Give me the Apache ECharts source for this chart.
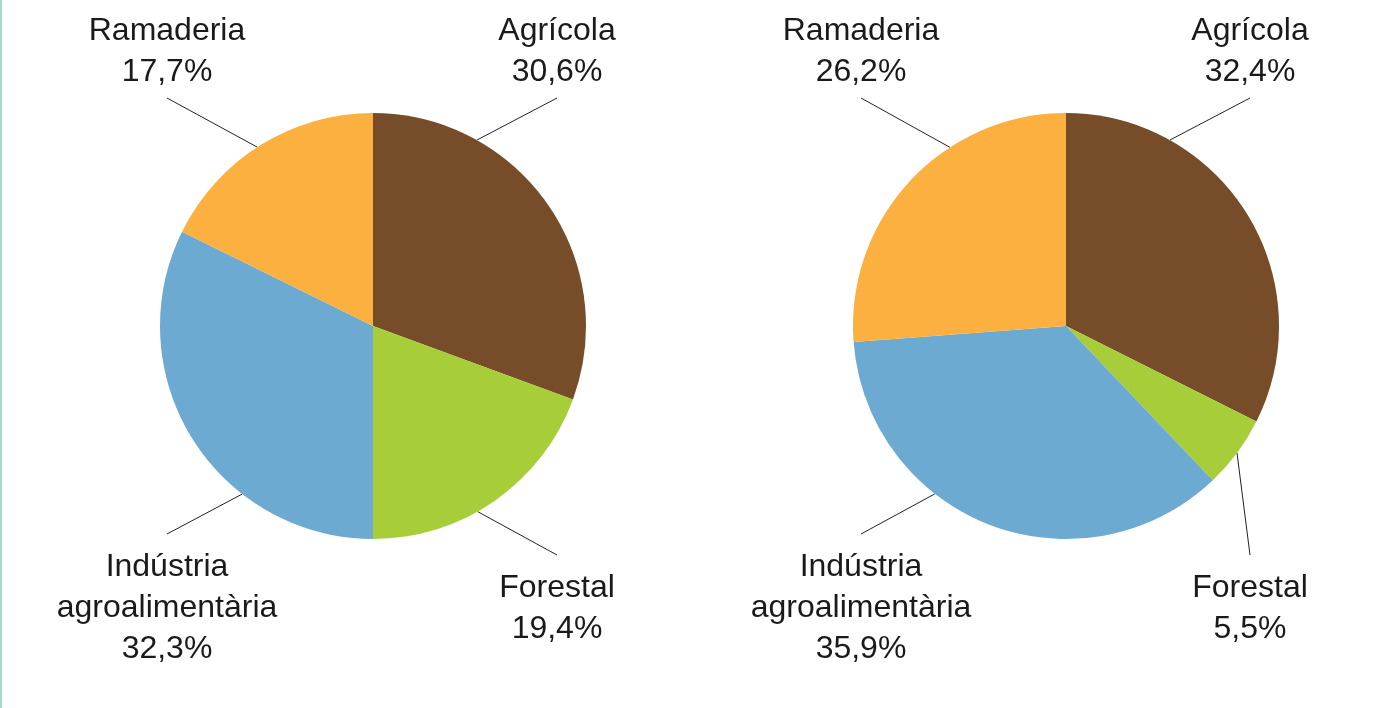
<!DOCTYPE html>
<html>
<head>
<meta charset="utf-8">
<script src="https://cdn.jsdelivr.net/npm/echarts@6/dist/echarts.min.js"></script>
<style>
html,body{margin:0;padding:0;background:#fff;}
#chart{position:absolute;left:0;top:0;width:1399px;height:708px;}
#edge{position:absolute;left:0;top:0;width:2px;height:708px;background:#A6DCC2;}
</style>
</head>
<body>
<div id="chart"></div>
<div id="edge"></div>
<script>
// ---- data ----
const categories = ['Agrícola', 'Forestal', 'Indústria agroalimentària', 'Ramaderia'];
const leftValues = [30.6, 19.4, 32.3, 17.7];
const rightValues = [32.4, 5.5, 35.9, 26.2];
const colors = ['#774C28', '#A7CE39', '#6CAAD2', '#FBB040'];

// ---- layout config (not data) ----
const R = 213;
const centers = [[373, 326], [1066, 326]];
// label anchor offsets from pie center, vertical alignment, line start angle (deg clockwise from top)
const labelCfg = [
  [ // left pie
    {dx: 184, dy: -233.5, va: 'bottom', lineEndDy: -228, ang: 29.2},
    {dx: 184, dy: 241.5, va: 'top', lineEndDy: 229, ang: 150.6},
    {dx: -206, dy: 220.5, va: 'top', lineEndDy: 208, ang: 217.9},
    {dx: -206, dy: -233.5, va: 'bottom', lineEndDy: -228, ang: 327.1}
  ],
  [ // right pie
    {dx: 184, dy: -233.5, va: 'bottom', lineEndDy: -228, ang: 29.2},
    {dx: 184, dy: 241.5, va: 'top', lineEndDy: 229, ang: 126.6},
    {dx: -205, dy: 220.5, va: 'top', lineEndDy: 208, ang: 218.0},
    {dx: -205, dy: -233.5, va: 'bottom', lineEndDy: -228, ang: 327.0}
  ]
];

function fmt(p) {
  const name = p.name.replace(' ', '\n');
  return name + '\n' + p.value.toFixed(1).replace('.', ',') + '%';
}

function makeSeries(values, si) {
  const c = centers[si];
  return {
    type: 'pie',
    center: c,
    radius: R,
    startAngle: 90,
    clockwise: true,
    avoidLabelOverlap: false,
    animation: false,
    data: categories.map((n, i) => ({name: n, value: values[i], itemStyle: {color: colors[i]}})),
    itemStyle: {borderWidth: 0},
    label: {
      show: true,
      position: 'outside',
      formatter: fmt,
      color: '#1a1a1a',
      fontFamily: 'Liberation Sans, Arial, sans-serif',
      fontSize: 32,
      lineHeight: 41,
      align: 'center'
    },
    labelLine: {show: true, length: 20, length2: 0, lineStyle: {color: '#222', width: 1}},
    emphasis: {disabled: true},
    labelLayout: function (params) {
      const cfg = labelCfg[si][params.dataIndex];
      const a = cfg.ang * Math.PI / 180;
      const sx = c[0] + R * Math.sin(a);
      const sy = c[1] - R * Math.cos(a);
      const lx = c[0] + cfg.dx;
      return {
        x: lx,
        y: c[1] + cfg.dy,
        align: 'center',
        verticalAlign: cfg.va,
        labelLinePoints: [[sx, sy], [lx, c[1] + cfg.lineEndDy]]
      };
    }
  };
}

const chart = echarts.init(document.getElementById('chart'), null, {renderer: 'canvas'});
chart.setOption({
  backgroundColor: '#ffffff',
  animation: false,
  series: [makeSeries(leftValues, 0), makeSeries(rightValues, 1)]
});
</script>
</body>
</html>
